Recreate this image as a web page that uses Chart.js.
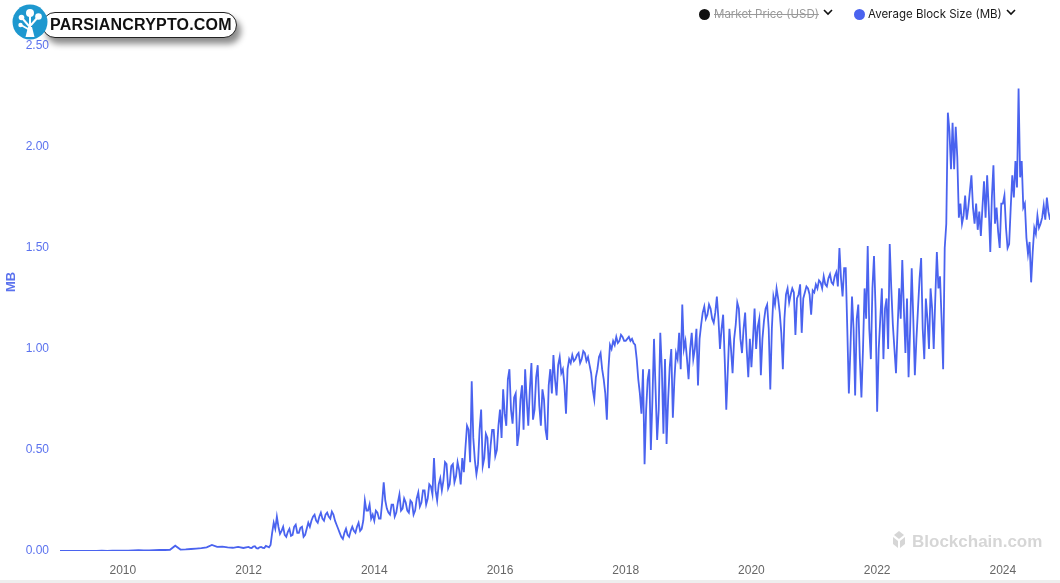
<!DOCTYPE html>
<html>
<head>
<meta charset="utf-8">
<script src="https://cdn.jsdelivr.net/npm/chart.js@4.4.1/dist/chart.umd.min.js"></script>
<style>
  html, body { margin: 0; padding: 0; background: #fff; }
  #wrap { position: relative; width: 1060px; height: 583px; overflow: hidden; background: #fff; }
  #c { position: absolute; left: 0; top: 0; }
  #bottomBar { position: absolute; left: 0; top: 580px; width: 1060px; height: 3px; background: #eeeeee; }
  #logo { position: absolute; left: 10px; top: 4px; width: 240px; height: 40px; }
  #logo .pill { position: absolute; left: 32px; top: 8px; width: 193px; height: 24px; border: 1.5px solid #222;
    border-radius: 13px; background: #fff; box-shadow: 4px 6px 6px rgba(0,0,0,0.45); }
  #logo .pill span { position: absolute; left: 7px; top: 3px; font: bold 16px "Liberation Sans", Arial, sans-serif;
    color: #111; letter-spacing: 0.2px; white-space: nowrap; }
  #logo svg { position: absolute; left: 2px; top: 0px; }
  #legend { position: absolute; top: 5px; left: 0; width: 1060px; height: 20px; font: 11.5px Inter, "Liberation Sans", sans-serif; }
  .litem { position: absolute; top: 0; height: 18px; white-space: nowrap; }
  .dot { position: absolute; top: 4px; width: 11px; height: 11px; border-radius: 50%; }
  .ltxt { position: absolute; top: 2px; }
  .chev { position: absolute; top: 4px; }
  #wm { position: absolute; left: 890px; top: 530px; height: 22px; white-space: nowrap; }
  #wm span { position: absolute; left: 22px; top: 2px; font: bold 17px "Liberation Sans", Arial, sans-serif; color: #d6d6d6; }
</style>
</head>
<body>
<div id="wrap">
  <canvas id="c" width="1060" height="583"></canvas>
  <div id="wm">
    <svg width="18" height="20" viewBox="0 0 18 20">
      <polygon points="9,1 14,5 9,9 4,5" fill="#d6d6d6"/>
      <polygon points="3,7 8,11 8,18 3,14" fill="#d6d6d6"/>
      <polygon points="15,7 10,11 10,18 15,14" fill="#d6d6d6"/>
    </svg>
    <span>Blockchain.com</span>
  </div>
  <div id="legend">
    <div class="litem" style="left:699px;">
      <div class="dot" style="left:0;background:#111;"></div>
      <div class="ltxt" style="left:15px;color:#9a9a9a;text-decoration:line-through;">Market Price (USD)</div>
      <svg class="chev" style="left:124px;" width="10" height="7" viewBox="0 0 10 7"><polyline points="1,1 5,5 9,1" fill="none" stroke="#111" stroke-width="1.6"/></svg>
    </div>
    <div class="litem" style="left:854px;">
      <div class="dot" style="left:0;background:#4a63ef;"></div>
      <div class="ltxt" style="left:14px;color:#1a1a1a;">Average Block Size (MB)</div>
      <svg class="chev" style="left:152px;" width="10" height="7" viewBox="0 0 10 7"><polyline points="1,1 5,5 9,1" fill="none" stroke="#111" stroke-width="1.6"/></svg>
    </div>
  </div>
  <div id="logo">
    <div class="pill"><span>PARSIANCRYPTO.COM</span></div>
    <svg width="36" height="36" viewBox="0 0 36 36">
      <circle cx="18" cy="18" r="17.5" fill="#1e98cf"/>
      <g stroke="#fff" stroke-width="2" stroke-linecap="round" fill="none">
        <line x1="18" y1="24" x2="18" y2="10"/>
        <line x1="17" y1="22" x2="10" y2="14"/>
        <line x1="19" y1="21" x2="26" y2="13"/>
        <line x1="16" y1="25" x2="9" y2="21"/>
      </g>
      <g fill="#fff">
        <circle cx="18" cy="9" r="4"/>
        <circle cx="9.5" cy="13.5" r="2.8"/>
        <circle cx="26.5" cy="12.5" r="3.3"/>
        <circle cx="8.5" cy="21" r="2.2"/>
        <polygon points="13.5,33 22.5,33 20,23 16,23"/>
      </g>
    </svg>
  </div>
  <div id="bottomBar"></div>
</div>
<script>
// ---- Data: Average Block Size (MB) ----
const y2009 = [0.000,0.000,0.001,0.001,0.001,0.001,0.001,0.001,0.002,0.001,0.002,0.002];
const y2010 = [0.002,0.002,0.003,0.004,0.003,0.003,0.004,0.005,0.005,0.006,0.026,0.007];
const y2011 = [0.008,0.010,0.012,0.014,0.018,0.030,0.020,0.022,0.018,0.016,0.020,0.015];
const y2012 = [0.020,0.016,0.015,0.022,0.024,0.014,0.012,0.018,0.020,0.016,0.015,0.025,0.022,0.018,0.030,0.090,0.140,0.110,0.170,0.120,
               0.085,0.100,0.120,0.080,0.070,0.095,0.110,0.075,0.080,0.120,0.130,0.090,0.090,0.115,0.120,0.070,0.080,0.110,0.140,0.120];
const y2013 = [0.150,0.170,0.180,0.150,0.140,0.170,0.190,0.160,0.150,0.180,0.190,0.170,0.160,0.195,0.180,0.150,0.130,0.110,0.090,0.070,
               0.060,0.090,0.110,0.080,0.070,0.100,0.120,0.100,0.090,0.120,0.140,0.100,0.110,0.150,0.250,0.200,0.200,0.230,0.160,0.180];
const y2014 = [0.150,0.200,0.190,0.160,0.160,0.240,0.340,0.250,0.210,0.190,0.180,0.230,0.230,0.170,0.190,0.240,0.280,0.200,0.210,0.260,
               0.240,0.200,0.190,0.250,0.240,0.180,0.200,0.260,0.290,0.220,0.240,0.300,0.300,0.230,0.260,0.330,0.320,0.280,0.460,0.300];
const y2015 = [0.250,0.330,0.360,0.300,0.350,0.440,0.430,0.310,0.330,0.420,0.430,0.340,0.370,0.440,0.400,0.330,0.460,0.390,0.510,0.620,
               0.600,0.440,0.840,0.560,0.450,0.380,0.430,0.600,0.700,0.420,0.460,0.580,0.560,0.410,0.520,0.600,0.600,0.470,0.500,0.620];
const y2016 = [0.700,0.560,0.800,0.680,0.620,0.850,0.900,0.700,0.630,0.760,0.780,0.520,0.580,0.750,0.820,0.600,0.900,0.750,0.620,0.800,
               0.930,0.650,0.700,0.860,0.920,0.720,0.620,0.800,0.750,0.600,0.550,0.820,0.900,0.780,0.970,0.850,0.770,0.920,0.960,0.880];
const y2017 = [0.900,0.820,0.680,0.900,0.950,0.930,0.970,0.940,0.950,0.970,0.980,0.930,0.950,0.990,0.980,0.940,0.960,0.920,0.880,0.800,
               0.750,0.860,0.900,0.960,0.980,0.900,0.850,0.780,0.650,0.900,1.020,1.000,1.040,1.020,1.060,1.030,1.040,1.070,1.060,1.040];
const y2018 = [1.040,1.050,1.060,1.040,1.050,1.030,1.020,0.950,0.850,0.780,0.680,0.900,0.430,0.700,0.850,0.900,0.500,0.750,1.050,0.800,
               0.550,0.700,1.080,0.900,0.580,0.950,0.530,0.750,0.910,1.000,0.660,0.850,0.980,0.950,1.080,0.900,1.220,1.000,1.040,0.950];
const y2019 = [0.850,1.000,1.080,0.950,1.000,1.100,0.820,1.050,1.120,1.180,1.210,1.150,1.170,1.220,1.200,1.150,1.130,1.180,1.260,1.150,
               1.000,1.100,1.170,0.950,0.700,0.900,1.100,1.000,0.880,1.050,1.120,1.230,1.200,1.050,0.980,1.100,1.180,1.000,0.860,1.050];
const y2020 = [0.910,1.050,1.200,1.000,1.110,1.150,0.870,1.050,1.140,1.200,1.220,1.100,0.800,1.100,1.260,1.220,1.300,1.250,1.180,1.080,
               0.900,1.150,1.270,1.300,1.230,1.270,1.300,1.280,1.070,1.250,1.270,1.320,1.080,1.250,1.280,1.310,1.300,1.270,1.170,1.290];
const y2021 = [1.280,1.320,1.300,1.340,1.330,1.300,1.360,1.320,1.310,1.350,1.370,1.330,1.320,1.360,1.380,1.310,1.500,1.350,1.260,1.400,
               1.400,1.100,0.780,1.000,1.260,1.100,0.770,1.150,1.220,0.950,0.760,1.000,1.300,1.150,1.510,1.100,0.950,1.300,1.460,1.200];
const y2022 = [0.690,1.000,1.150,1.300,0.950,1.200,1.250,1.000,1.520,1.300,1.120,1.000,0.880,1.100,1.300,1.150,1.440,1.200,0.980,1.250,
               0.860,1.100,1.400,1.150,0.870,1.050,1.200,1.350,1.450,1.100,0.950,1.250,1.150,1.000,1.300,1.200,1.000,1.250,1.480,1.300];
const y2023 = [1.360,1.150,0.900,1.500,1.620,2.170,2.080,1.890,2.120,1.890,2.100,1.950,1.650,1.720,1.620,1.660,1.760,1.640,1.700,1.780,
               1.860,1.700,1.620,1.720,1.590,1.680,1.560,1.700,1.830,1.650,1.860,1.700,1.480,1.750,1.910,1.620,1.700,1.580,1.500,1.720];
const y2024 = [1.720,1.760,1.600,1.500,1.520,1.700,1.860,1.750,1.930,1.800,2.290,1.850,1.930,1.700,1.720,1.550,1.470,1.530,1.330,1.480,
               1.600,1.570,1.660,1.600,1.620,1.650,1.710,1.640,1.750,1.680,1.640];

// [year, samples per year, values]
const yearBlocks = [
  [2009, 12, y2009], [2010, 12, y2010], [2011, 12, y2011],
  [2012, 40, y2012], [2013, 40, y2013], [2014, 40, y2014], [2015, 40, y2015],
  [2016, 40, y2016], [2017, 40, y2017], [2018, 40, y2018], [2019, 40, y2019],
  [2020, 40, y2020], [2021, 40, y2021], [2022, 40, y2022], [2023, 40, y2023],
  [2024, 40, y2024]
];

const xTickYears = [2010, 2012, 2014, 2016, 2018, 2020, 2022, 2024];
const yTickValues = [0, 0.5, 1.0, 1.5, 2.0, 2.5];

const points = [];
for (const [year, perYear, vals] of yearBlocks) {
  vals.forEach((v, i) => points.push({ x: year + i / perYear, y: v }));
}

const LINE = '#4a63ef';
const YLAB = '#5b72ee';

const mbTitle = {
  id: 'mbTitle',
  afterDraw(chart) {
    const ctx = chart.ctx;
    ctx.save();
    ctx.translate(11, 282);
    ctx.rotate(-Math.PI / 2);
    ctx.font = 'bold 13px "Liberation Sans", Arial, sans-serif';
    ctx.fillStyle = YLAB;
    ctx.textAlign = 'center';
    ctx.textBaseline = 'middle';
    ctx.fillText('MB', 0, 0);
    ctx.restore();
  }
};

new Chart(document.getElementById('c'), {
  type: 'line',
  data: {
    datasets: [{
      label: 'Average Block Size (MB)',
      data: points,
      borderColor: LINE,
      backgroundColor: LINE,
      borderWidth: 1.8,
      pointRadius: 0,
      tension: 0,
      fill: false
    }]
  },
  options: {
    responsive: false,
    animation: false,
    layout: { padding: { top: 46, right: 10, bottom: 2, left: 0 } },
    plugins: { legend: { display: false }, tooltip: { enabled: false } },
    scales: {
      x: {
        type: 'linear',
        min: 2009,
        max: 2024.75,
        grid: { display: false, drawTicks: false },
        border: { display: false },
        afterBuildTicks(axis) { axis.ticks = xTickYears.map(v => ({ value: v })); },
        afterFit(scale) { scale.height = 30; },
        ticks: {
          padding: 12,
          color: '#666',
          font: { family: '"Liberation Sans", Arial, sans-serif', size: 12 },
          callback: v => String(v),
          maxRotation: 0
        }
      },
      y: {
        min: 0,
        max: 2.5,
        grid: { display: false, drawTicks: false },
        border: { display: false },
        afterBuildTicks(axis) { axis.ticks = yTickValues.map(v => ({ value: v })); },
        afterFit(scale) { scale.width = 60; },
        ticks: {
          padding: 11,
          color: YLAB,
          font: { family: '"Liberation Sans", Arial, sans-serif', size: 12 },
          callback: v => Number(v).toFixed(2)
        }
      }
    }
  },
  plugins: [mbTitle]
});
</script>
</body>
</html>
